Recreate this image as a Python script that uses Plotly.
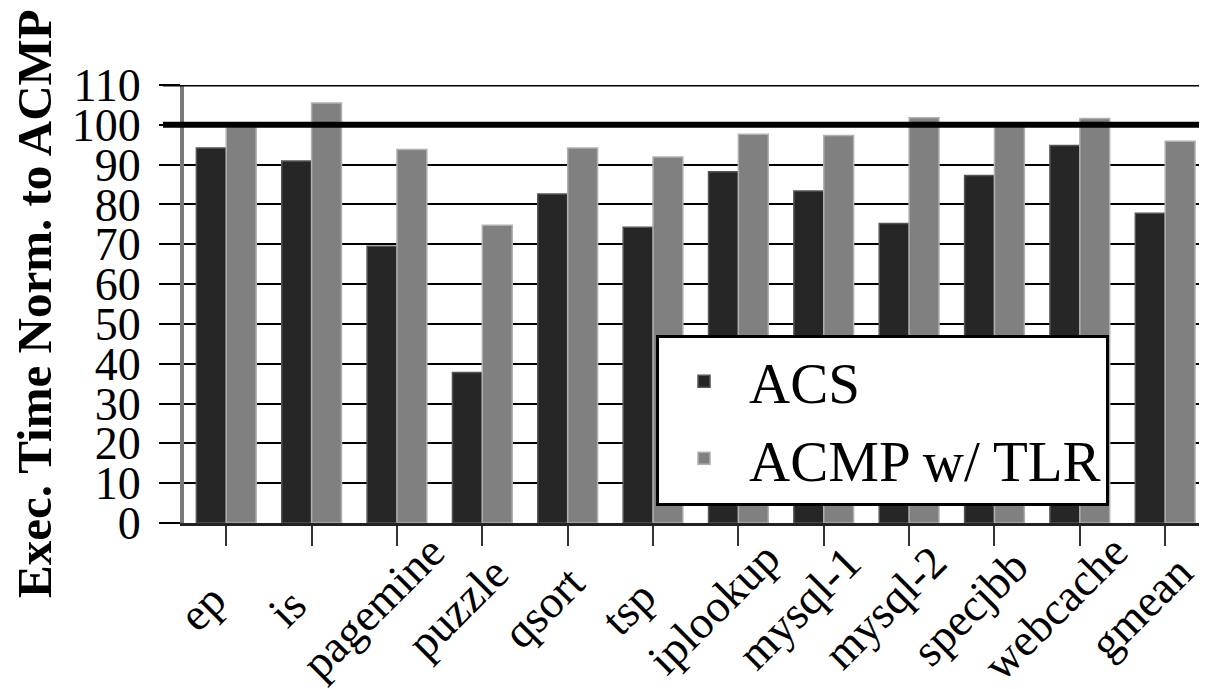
import plotly.graph_objects as go

categories = ["ep", "is", "pagemine", "puzzle", "qsort", "tsp", "iplookup",
              "mysql-1", "mysql-2", "specjbb", "webcache", "gmean"]
acs = [94.2, 90.9, 69.5, 37.8, 82.6, 74.3, 88.2, 83.4, 75.2, 87.3, 94.8, 77.8]
acmp_tlr = [99.5, 105.5, 93.8, 74.8, 94.2, 91.9, 97.6, 97.3, 101.8, 99.5, 101.6, 95.9]
y_ticks = [0, 10, 20, 30, 40, 50, 60, 70, 80, 90, 100, 110]

SERIF = "Liberation Serif, Times New Roman, serif"

fig = go.Figure()
fig.add_trace(go.Bar(
    name="ACS", x=categories, y=acs,
    marker=dict(color="#262626", line=dict(color="#555555", width=1.5)),
))
fig.add_trace(go.Bar(
    name="ACMP w/ TLR", x=categories, y=acmp_tlr,
    marker=dict(color="#808080", line=dict(color="#b0b0b0", width=1.5)),
))

# thick reference line at 100 and top line at 110
fig.add_shape(type="line", xref="paper", yref="y", x0=-0.0205, x1=1, y0=100, y1=100,
              line=dict(color="black", width=6), layer="above")
fig.add_shape(type="line", xref="paper", yref="y", x0=-0.0205, x1=1, y0=110, y1=110,
              line=dict(color="black", width=3), layer="above")

# rotated category labels, centred below each tick
for i, c in enumerate(categories):
    fig.add_annotation(x=i - 0.28, y=-0.194, xref="x", yref="paper",
                       text=c, textangle=-45, showarrow=False,
                       xanchor="center", yanchor="middle",
                       font=dict(family=SERIF, size=46, color="black"))

# y-axis title
fig.add_annotation(x=-0.1466, y=0.5, xref="paper", yref="paper",
                   text="<b>Exec. Time Norm. to ACMP</b>", textangle=-90,
                   showarrow=False, xanchor="center", yanchor="middle",
                   font=dict(family=SERIF, size=49, color="black"))

fig.update_layout(
    width=1199, height=681,
    margin=dict(l=176, r=0, t=77, b=166),
    paper_bgcolor="white", plot_bgcolor="white",
    barmode="group", bargap=0.30, bargroupgap=0,
    showlegend=True,
    legend=dict(x=0.4614, y=0.430, xanchor="left", yanchor="top",
                bgcolor="white", bordercolor="black", borderwidth=3,
                font=dict(family=SERIF, size=57, color="black"),
                itemwidth=80, tracegroupgap=0),
    xaxis=dict(range=[-0.495, 11.49], showticklabels=False,
               ticks="outside", ticklen=20, tickwidth=2, tickcolor="#333333",
               showline=True, linecolor="#222222", linewidth=3,
               showgrid=False, zeroline=False),
    yaxis=dict(range=[0, 110], tickvals=y_ticks, ticktext=[str(v) for v in y_ticks],
               ticks="outside", ticklen=21, tickwidth=2, tickcolor="black",
               ticklabelstandoff=9,
               showgrid=True, gridcolor="black", gridwidth=2,
               showline=True, linecolor="#7a7a7a", linewidth=4,
               zeroline=False,
               tickfont=dict(family=SERIF, size=46, color="black")),
)

fig.write_html("out.html")
